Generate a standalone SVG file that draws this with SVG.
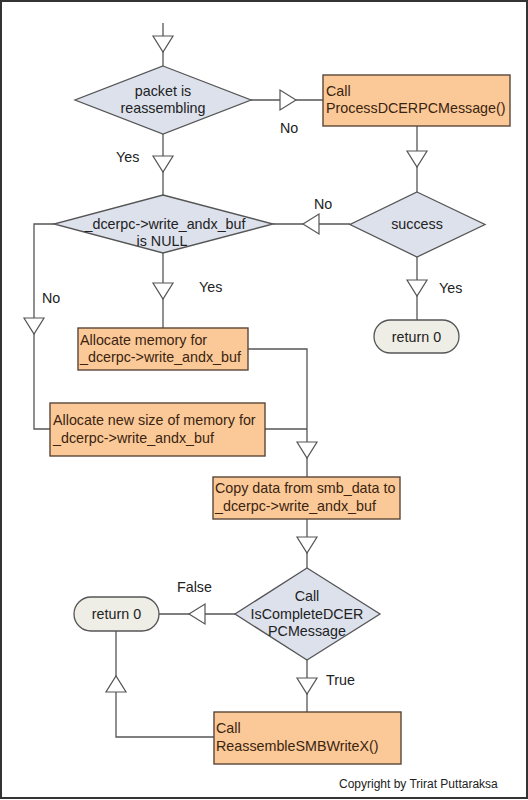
<svg xmlns="http://www.w3.org/2000/svg" width="528" height="800" viewBox="0 0 528 800">
<style>
.ln{fill:none;stroke:#555;stroke-width:1.3}
.ar{fill:#fff;stroke:#555;stroke-width:1.2}
.bx{fill:#fbc998;stroke:#5a4636;stroke-width:1.4}
.dm{fill:#dce1ec;stroke:#555;stroke-width:1.3}
.pl{fill:#eeeee6;stroke:#555;stroke-width:1.3}
text{font-family:"Liberation Sans",Arial,sans-serif;font-size:14.3px;fill:#222}
.c{text-anchor:middle}
.bt{fill:#3a2410}
.cp{font-size:12px}
</style>
<rect x="1" y="1" width="526" height="797" fill="#fff" stroke="#333" stroke-width="2"/>
<g id="connectors">
<path class="ln" d="M163,23V66"/>
<path class="ln" d="M163,134V195"/>
<path class="ln" d="M251,100H323"/>
<path class="ln" d="M417,126V192"/>
<path class="ln" d="M350,224H273"/>
<path class="ln" d="M54,224H34V429H50"/>
<path class="ln" d="M163,253V328"/>
<path class="ln" d="M417,257V320"/>
<path class="ln" d="M248,349H307V477"/>
<path class="ln" d="M265,429H307"/>
<path class="ln" d="M307,519V568"/>
<path class="ln" d="M235,614H159"/>
<path class="ln" d="M116,631V737H214"/>
<path class="ln" d="M307,660V712"/>
<polygon class="ar" points="153,36 173,36 163,52"/>
<polygon class="ar" points="153,156 173,156 163,172"/>
<polygon class="ar" points="280,90 280,110 296,100"/>
<polygon class="ar" points="407,151 427,151 417,167"/>
<polygon class="ar" points="319,214 319,234 303,224"/>
<polygon class="ar" points="153,283 173,283 163,299"/>
<polygon class="ar" points="407,280 427,280 417,296"/>
<polygon class="ar" points="24,318 44,318 34,334"/>
<polygon class="ar" points="297,442 317,442 307,458"/>
<polygon class="ar" points="297,537 317,537 307,553"/>
<polygon class="ar" points="205,604 205,624 189,614"/>
<polygon class="ar" points="106,692 126,692 116,676"/>
<polygon class="ar" points="297,678 317,678 307,694"/>
<text x="280" y="133">No</text>
<text x="116" y="162">Yes</text>
<text x="314" y="209">No</text>
<text x="199" y="292">Yes</text>
<text x="42" y="303">No</text>
<text x="439" y="293">Yes</text>
<text x="177" y="592">False</text>
<text x="326" y="685">True</text>
</g>
<g id="n1">
<polygon class="dm" points="163,66 251,100 163,134 75,100"/>
<text class="c" x="163" y="96">packet is</text>
<text class="c" x="163" y="113">reassembling</text>
</g>
<g id="n2">
<rect class="bx" x="323" y="75" width="187" height="51"/>
<text class="bt" x="326" y="96">Call</text>
<text class="bt" x="326" y="113">ProcessDCERPCMessage()</text>
</g>
<g id="n3">
<polygon class="dm" points="163,195 273,224 163,253 54,224"/>
<text class="c" x="165" y="229">_dcerpc-&gt;write_andx_buf</text>
<text class="c" x="162" y="246">is NULL</text>
</g>
<g id="n4">
<polygon class="dm" points="417,192 485,224.5 417,257 350,224.5"/>
<text class="c" x="417" y="229">success</text>
</g>
<g id="n5">
<rect class="pl" x="374" y="320" width="85" height="33" rx="16.5"/>
<text class="c" x="416.5" y="342">return 0</text>
</g>
<g id="n6">
<rect class="bx" x="78" y="328" width="170" height="42"/>
<text class="bt" x="80" y="345">Allocate memory for</text>
<text class="bt" x="80" y="362">_dcerpc-&gt;write_andx_buf</text>
</g>
<g id="n7">
<rect class="bx" x="50" y="403" width="215" height="53"/>
<text class="bt" x="53" y="425">Allocate new size of memory for</text>
<text class="bt" x="53" y="443">_dcerpc-&gt;write_andx_buf</text>
</g>
<g id="n8">
<rect class="bx" x="213" y="477" width="187" height="42"/>
<text class="bt" x="215" y="493">Copy data from smb_data to</text>
<text class="bt" x="215" y="511">_dcerpc-&gt;write_andx_buf</text>
</g>
<g id="n9">
<polygon class="dm" points="307,568 380,614 307,660 235,614"/>
<text class="c" x="307" y="601">Call</text>
<text class="c" x="307" y="619">IsCompleteDCER</text>
<text class="c" x="307" y="636">PCMessage</text>
</g>
<g id="n10">
<rect class="pl" x="74" y="597" width="85" height="34" rx="17"/>
<text class="c" x="116.5" y="619">return 0</text>
</g>
<g id="n11">
<rect class="bx" x="214" y="712" width="187" height="52"/>
<text class="bt" x="216" y="733">Call</text>
<text class="bt" x="216" y="751">ReassembleSMBWriteX()</text>
</g>
<text class="cp" x="339" y="788">Copyright by Trirat Puttaraksa</text>
</svg>
